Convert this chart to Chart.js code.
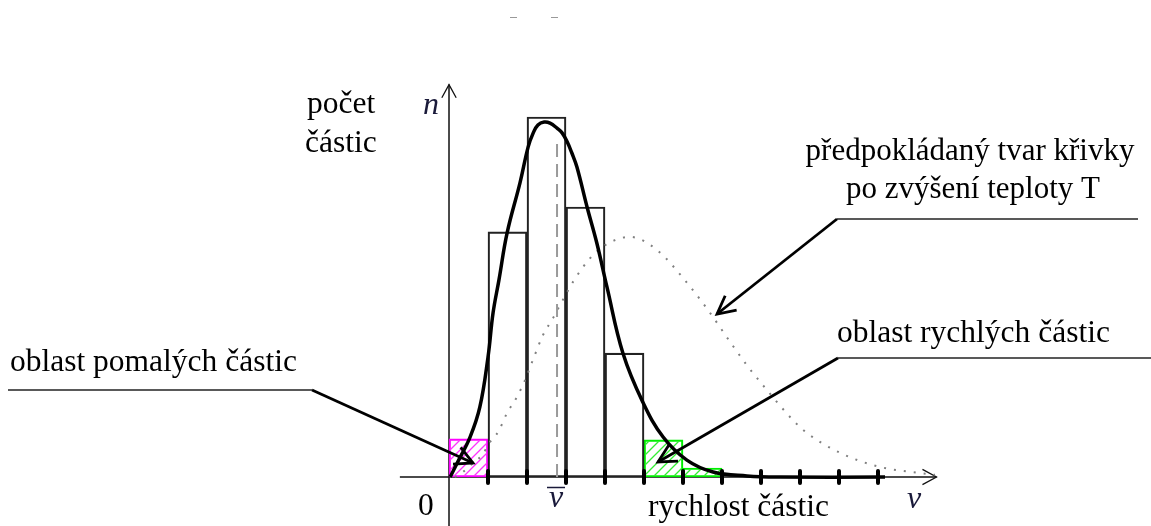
<!DOCTYPE html>
<html>
<head>
<meta charset="utf-8">
<script src="https://cdn.jsdelivr.net/npm/chart.js@4.4.0/dist/chart.umd.min.js"></script>
<style>
  html, body { margin: 0; background: #fff; overflow: hidden; }
  #wrap { width: 1151px; height: 526px; position: relative; }
</style>
</head>
<body>
<div id="wrap"><canvas id="chart"></canvas></div>
<script>
// histogram bins (centre of bin, bin width = 1 unit of speed)
const histBins = [1.5, 2.5, 3.5, 4.5];
const histCounts = [6.81, 10.0, 7.5, 3.44];
const slowBins = [0.5];
const slowCounts = [1.06];
const fastBins = [5.5, 6.5];
const fastCounts = [1.03, 0.25];

// measured distribution curve
const curveV = [0.03, 0.21, 0.54, 0.79, 1.0, 1.13, 1.28, 1.49, 1.82, 2.03, 2.16, 2.28, 2.44, 2.59, 2.77, 2.90, 3.03, 3.15, 3.28, 3.54, 3.79, 4.05, 4.46, 4.97, 5.49, 6.10, 6.77, 7.64, 8.49, 11.18];
const curveN = [0, 0.39, 1.11, 1.94, 3.33, 4.56, 5.47, 6.78, 8.17, 9.17, 9.56, 9.78, 9.86, 9.83, 9.69, 9.56, 9.31, 9.0, 8.61, 7.5, 6.5, 5.28, 3.44, 2.08, 1.11, 0.47, 0.14, 0.03, 0, 0];

// expected curve after raising temperature T
const hotV = [0.15, 0.36, 0.62, 0.85, 1.05, 1.26, 1.49, 1.74, 1.95, 2.15, 2.41, 2.67, 2.92, 3.18, 3.62, 4.0, 4.64, 5.33, 6.0, 6.64, 7.21, 7.67, 8.15, 8.82, 9.18, 10.03, 11.05, 12.08, 12.46];
const hotN = [0, 0.14, 0.39, 0.61, 0.97, 1.25, 1.78, 2.22, 2.69, 3.25, 3.94, 4.42, 4.92, 5.42, 6.08, 6.44, 6.67, 6.31, 5.53, 4.64, 3.75, 3.06, 2.42, 1.58, 1.22, 0.67, 0.28, 0.11, 0.06];

// mean speed marker
const meanV = [2.77, 2.77];
const meanN = [0, 9.28];

const tickValues = [1, 2, 3, 4, 5, 6, 7, 8, 9, 10, 11];

function pts(xs, ys) {
  return xs.map((x, i) => ({ x: x, y: ys[i] }));
}

function hatch(color) {
  const c = document.createElement('canvas');
  c.width = 10; c.height = 10;
  const g = c.getContext('2d');
  g.strokeStyle = color;
  g.lineWidth = 1.3;
  g.beginPath();
  g.moveTo(0, 10); g.lineTo(10, 0);
  g.moveTo(-1, 1); g.lineTo(1, -1);
  g.moveTo(9, 11); g.lineTo(11, 9);
  g.stroke();
  return g.createPattern(c, 'repeat');
}

const serif = '"Liberation Serif", "Times New Roman", serif';

function arrowHead(ctx, tip, from, len, ang) {
  const a = Math.atan2(from[1] - tip[1], from[0] - tip[0]);
  ctx.beginPath();
  ctx.moveTo(tip[0] + len * Math.cos(a + ang), tip[1] + len * Math.sin(a + ang));
  ctx.lineTo(tip[0], tip[1]);
  ctx.lineTo(tip[0] + len * Math.cos(a - ang), tip[1] + len * Math.sin(a - ang));
  ctx.stroke();
}

const diagram = {
  id: 'diagram',
  beforeDatasetsDraw(chart) {
    const ctx = chart.ctx;
    const x = chart.scales.x, y = chart.scales.y;
    ctx.save();
    ctx.strokeStyle = '#111';
    ctx.lineWidth = 1.5;
    const x0 = x.getPixelForValue(0), y0 = y.getPixelForValue(0);
    const xEnd = x.getPixelForValue(12.5), yEnd = y.getPixelForValue(10.9);
    ctx.beginPath();
    ctx.moveTo(x.getPixelForValue(-1.26), y0); ctx.lineTo(xEnd, y0);
    ctx.moveTo(x0, chart.height); ctx.lineTo(x0, yEnd);
    ctx.stroke();
    ctx.lineWidth = 1.3;
    arrowHead(ctx, [xEnd, y0], [xEnd - 10, y0], 16, 0.5);
    arrowHead(ctx, [x0, yEnd], [x0, yEnd + 10], 15, 0.5);
    ctx.restore();
  },
  afterDatasetsDraw(chart) {
    const ctx = chart.ctx;
    const x = chart.scales.x, y = chart.scales.y;
    const y0 = y.getPixelForValue(0);
    ctx.save();
    ctx.strokeStyle = '#000';
    ctx.lineWidth = 4;
    ctx.lineCap = 'round';
    tickValues.forEach(v => {
      const px = x.getPixelForValue(v);
      ctx.beginPath();
      ctx.moveTo(px, y0 - 6); ctx.lineTo(px, y0 + 6);
      ctx.stroke();
    });
    ctx.restore();
  },
  afterDraw(chart) {
    const ctx = chart.ctx;
    ctx.save();
    ctx.fillStyle = '#000';
    ctx.textBaseline = 'alphabetic';
    ctx.font = '31.5px ' + serif;
    const labels = [
      ['počet', 307, 113, 'left'],
      ['částic', 305, 152, 'left'],
      ['oblast rychlých částic', 837, 342, 'left'],
      ['oblast pomalých částic', 10, 371, 'left'],
      ['0', 418, 515, 'left'],
      ['rychlost částic', 648, 516, 'left']
    ];
    labels.forEach(l => {
      ctx.textAlign = l[3];
      ctx.fillText(l[0], l[1], l[2]);
    });
    ctx.font = '31px ' + serif;
    ctx.textAlign = 'center';
    ctx.fillText('předpokládaný tvar křivky', 970, 160);
    ctx.fillText('po zvýšení teploty T', 973, 198);

    ctx.font = 'italic 32px ' + serif;
    ctx.textAlign = 'left';
    ctx.fillStyle = '#1a1a3a';
    ctx.fillText('n', 423, 114);
    ctx.fillText('v', 549, 507);
    ctx.fillText('v', 907, 508);
    ctx.strokeStyle = '#1a1a3a';
    ctx.lineWidth = 1.5;
    ctx.beginPath();
    ctx.moveTo(547, 487.5); ctx.lineTo(565, 487.5);
    ctx.stroke();

    // call-out lines
    const leaders = [
      [[8, 390], [312, 390], [473, 463]],
      [[1151, 358], [838, 358], [658, 462]],
      [[1138, 219], [837, 219], [717, 314]]
    ];
    leaders.forEach(l => {
      ctx.strokeStyle = '#222';
      ctx.lineWidth = 1.5;
      ctx.beginPath();
      ctx.moveTo(l[0][0], l[0][1]); ctx.lineTo(l[1][0], l[1][1]);
      ctx.stroke();
      ctx.strokeStyle = '#000';
      ctx.lineWidth = 2.8;
      ctx.lineJoin = 'miter';
      ctx.beginPath();
      ctx.moveTo(l[1][0], l[1][1]); ctx.lineTo(l[2][0], l[2][1]);
      ctx.stroke();
      arrowHead(ctx, l[2], l[1], 20, 0.48);
    });

    // faint marks at the top edge
    ctx.strokeStyle = '#999';
    ctx.lineWidth = 1.2;
    ctx.beginPath();
    ctx.moveTo(510, 17.5); ctx.lineTo(517, 17.5);
    ctx.moveTo(551, 17.5); ctx.lineTo(558, 17.5);
    ctx.stroke();
    ctx.restore();
  }
};

new Chart(document.getElementById('chart'), {
  data: {
    datasets: [
      {
        type: 'line',
        data: pts(curveV, curveN),
        borderColor: '#000',
        borderWidth: 3.5,
        pointRadius: 0,
        tension: 0.4,
        fill: false,
        order: 0
      },
      {
        type: 'line',
        data: pts(meanV, meanN),
        borderColor: '#9a9a9a',
        borderWidth: 2,
        borderDash: [13, 7],
        pointRadius: 0,
        fill: false,
        order: 1
      },
      {
        type: 'line',
        data: pts(hotV, hotN),
        borderColor: '#808080',
        borderWidth: 2,
        borderDash: [2, 8],
        pointRadius: 0,
        cubicInterpolationMode: 'monotone',
        fill: false,
        order: 2
      },
      {
        type: 'bar',
        data: pts(histBins, histCounts),
        backgroundColor: 'rgba(0,0,0,0)',
        borderColor: '#222',
        borderWidth: 1.5,
        borderSkipped: false,
        barPercentage: 1,
        categoryPercentage: 1,
        grouped: false,
        order: 3
      },
      {
        type: 'bar',
        data: pts(slowBins, slowCounts),
        backgroundColor: hatch('#ff33ff'),
        borderColor: '#ff00ff',
        borderWidth: 1.5,
        borderSkipped: false,
        barPercentage: 1,
        categoryPercentage: 1,
        grouped: false,
        order: 4
      },
      {
        type: 'bar',
        data: pts(fastBins, fastCounts),
        backgroundColor: hatch('#33ee33'),
        borderColor: '#00ee00',
        borderWidth: 1.5,
        borderSkipped: false,
        barPercentage: 1,
        categoryPercentage: 1,
        grouped: false,
        order: 5
      }
    ]
  },
  options: {
    responsive: true,
    maintainAspectRatio: false,
    devicePixelRatio: 1,
    animation: false,
    layout: { padding: 0 },
    plugins: { legend: { display: false }, tooltip: { enabled: false } },
    scales: {
      x: {
        type: 'linear',
        display: false,
        offset: false,
        min: -11.513,
        max: 18.0,
        ticks: { stepSize: 1, includeBounds: false }
      },
      y: {
        type: 'linear',
        display: false,
        offset: false,
        min: -1.361,
        max: 13.25
      }
    }
  },
  plugins: [diagram]
});
</script>
</body>
</html>
